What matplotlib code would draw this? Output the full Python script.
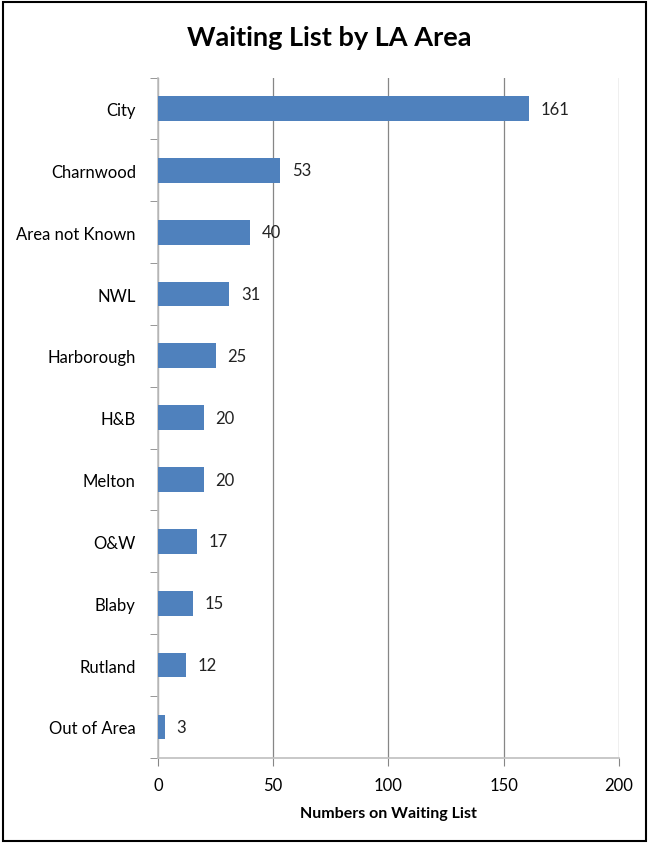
import matplotlib.pyplot as plt
from matplotlib.patches import Rectangle
import numpy as np

areas = ['City', 'Charnwood', 'Area not Known', 'NWL', 'Harborough', 'H&B',
         'Melton', 'O&W', 'Blaby', 'Rutland', 'Out of Area']
counts = [161, 53, 40, 31, 25, 20, 20, 17, 15, 12, 3]
x_ticks = [0, 50, 100, 150, 200]

plt.rcParams['font.family'] = ['Lato', 'DejaVu Sans']

fig = plt.figure(figsize=(6.49, 8.45), dpi=100)
ax = fig.add_axes([0.2435, 0.102, 0.710, 0.805])

y = np.arange(len(areas))
ax.barh(y, counts, height=0.4, color='#4F81BD', zorder=3)
for yi, v in zip(y, counts):
    ax.text(v + 5, yi, str(v), va='center', ha='left', fontsize=12, color='#222222')

ax.set_ylim(len(areas) - 0.5, -0.5)
ax.set_xlim(0, 200)
ax.set_yticks(y)
ax.set_yticklabels(areas, fontsize=12)
ax.set_yticks(np.arange(-0.5, len(areas), 1), minor=True)
ax.tick_params(axis='y', which='major', length=0, pad=16)
ax.tick_params(axis='y', which='minor', length=6, color='#868686')
ax.set_xticks(x_ticks)
ax.tick_params(axis='x', labelsize=12, length=6, color='#868686', pad=8)
ax.grid(axis='x', color='#868686', linewidth=0.9, zorder=0)

for s in ['top', 'right']:
    ax.spines[s].set_visible(False)
for s in ['left', 'bottom']:
    ax.spines[s].set_color('#BFBFBF')
    ax.spines[s].set_linewidth(1.2)

ax.set_xlabel('Numbers on Waiting List', fontsize=11.5, fontweight='bold', labelpad=9)
fig.text(0.507, 0.955, 'Waiting List by LA Area', ha='center', va='center',
         fontsize=19.5, fontweight='bold')

fig.patches.append(Rectangle((0.005, 0.003), 0.99, 0.994, transform=fig.transFigure,
                             fill=False, edgecolor='black', linewidth=1.5))

fig.savefig('out.png', dpi=100)
